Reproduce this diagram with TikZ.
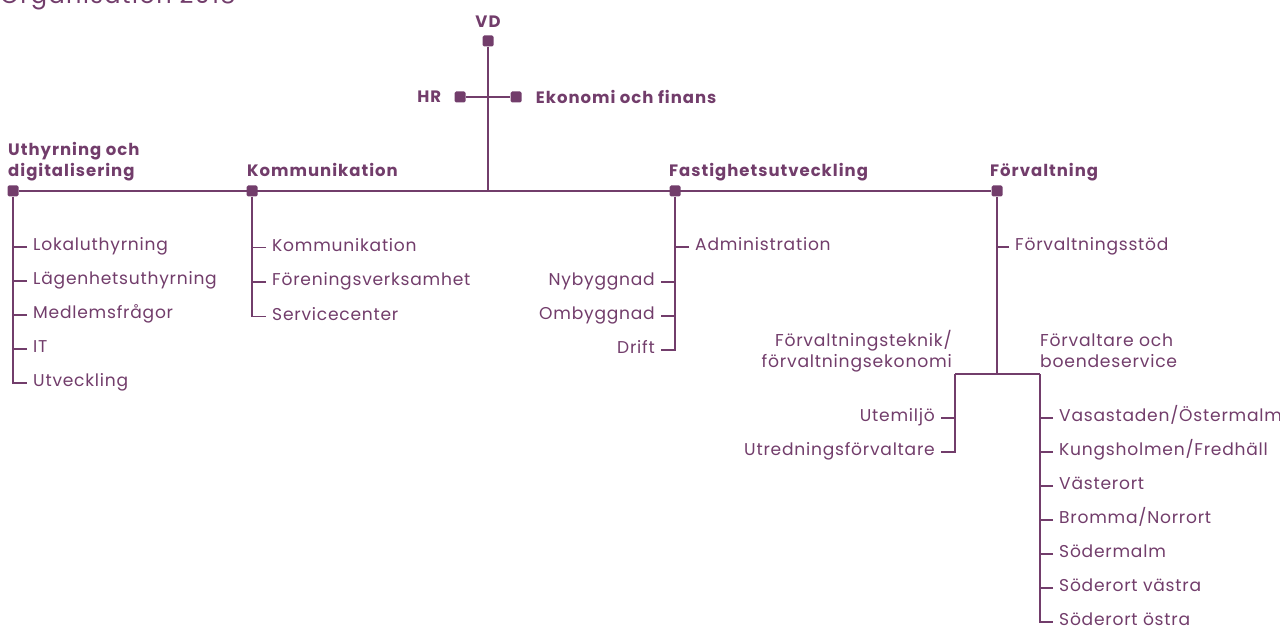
\documentclass[tikz,border=0pt]{standalone}
\usepackage{fontspec}
\setmainfont{Poppins}[LetterSpace=6]
\newfontfamily\subfont{Poppins}[LetterSpace=4.5]
\usetikzlibrary{positioning}

\definecolor{orgpurple}{RGB}{114,61,107}

\tikzset{
  unit/.style={rectangle, fill=orgpurple, rounded corners=1.5pt, minimum size=11pt, inner sep=0pt},
  head/.style={font=\bfseries\fontsize{16.5}{21}\selectfont, text=orgpurple, inner sep=0pt, align=left},
  subhead/.style={font=\subfont\fontsize{17.2}{20.5}\selectfont, text=orgpurple, inner sep=0pt},
  sub/.style={font=\subfont\fontsize{17.1}{21}\selectfont, text=orgpurple, inner sep=0pt, text height=0.75em, text depth=0pt},
  link/.style={draw=orgpurple, line width=1.2pt},
}

\begin{document}
\begin{tikzpicture}[x=1pt,y=-1pt]
  \useasboundingbox (0,0) rectangle (1280,628);

  \node[anchor=base west, inner sep=0pt, text=orgpurple, font=\fontsize{24}{28}\selectfont] (title) at (0,3.5) {Organisation 2018};

  % top
  \node[unit] (vd) at (488,41) {};
  \node[head, above=8pt of vd] (vdlabel) {VD};
  \node[unit] (hr) at (460,97) {};
  \node[unit] (eko) at (516,97) {};
  \node[head, left=13pt of hr] (hrlabel) {HR};
  \node[head, right=14pt of eko] (ekolabel) {Ekonomi och finans};
  \coordinate (hub) at (488,191);
  \draw[link] (vd) -- (hub);
  \draw[link] (hr) -- (eko);

  % departments
  \node[unit] (ud) at (13,191) {};
  \node[unit] (kom) at (252,191) {};
  \node[unit] (fas) at (675,191) {};
  \node[unit] (fv) at (997,191) {};
  \draw[link] (ud) -- (fv);
  \node[head, anchor=base west] (udlabel) at (8,177) {Uthyrning och\\digitalisering};
  \node[head, anchor=base west] (komlabel) at (247,177) {Kommunikation};
  \node[head, anchor=base west] (faslabel) at (669,177) {Fastighetsutveckling};
  \node[head, anchor=base west] (fvlabel) at (990,177) {Förvaltning};

  % Uthyrning och digitalisering
  \foreach \txt [count=\i] in {Lokaluthyrning, Lägenhetsuthyrning, Medlemsfrågor, IT, Utveckling}
    \node[sub, anchor=west] (ud\i) at (33,213+34*\i) {\txt};
  \foreach \i in {1,...,4}
    \draw[link] ([xshift=-6pt]ud\i.west) -- (ud |- ud\i.west);
  \draw[link] (ud) |- ([xshift=-6pt]ud5.west);

  % Kommunikation
  \foreach \txt [count=\i] in {Kommunikation, Föreningsverksamhet, Servicecenter}
    \node[sub, anchor=west] (kom\i) at (272,213+34.5*\i) {\txt};
  \foreach \i in {1,2}
    \draw[link] ([xshift=-6pt]kom\i.west) -- (kom |- kom\i.west);
  \draw[link] (kom) |- ([xshift=-6pt]kom3.west);

  % Fastighetsutveckling
  \node[sub, anchor=west] (adm) at (695,247) {Administration};
  \draw[link] ([xshift=-6pt]adm.west) -- (fas |- adm.west);
  \foreach \txt/\y [count=\i] in {Nybyggnad/282, Ombyggnad/316, Drift/350}
    \node[sub, anchor=east] (fas\i) at (655,\y) {\txt};
  \foreach \i in {1,2}
    \draw[link] ([xshift=6pt]fas\i.east) -- (fas |- fas\i.east);
  \draw[link] (fas) |- ([xshift=6pt]fas3.east);

  % Förvaltning
  \node[sub, anchor=west] (stod) at (1015,247) {Förvaltningsstöd};
  \draw[link] ([xshift=-6pt]stod.west) -- (fv |- stod.west);
  \coordinate (split) at (997,374);
  \coordinate (tek) at (955,374);
  \coordinate (boe) at (1040,374);
  \draw[link] (fv) -- (split);
  \draw[link] (tek) -- (boe);
  \node[subhead, anchor=base east, align=right] (teklabel) at (952,367) {Förvaltningsteknik/\\förvaltningsekonomi};
  \node[subhead, anchor=base west, align=left] (boelabel) at (1040,367) {Förvaltare och\\boendeservice};

  \node[sub, anchor=east] (tek1) at (935,418) {Utemiljö};
  \node[sub, anchor=east] (tek2) at (935,452) {Utredningsförvaltare};
  \draw[link] ([xshift=6pt]tek1.east) -- (tek |- tek1.east);
  \draw[link] (tek) |- ([xshift=6pt]tek2.east);

  \foreach \txt [count=\i] in {Vasastaden/Östermalm, Kungsholmen/Fredhäll, Västerort, Bromma/Norrort, Södermalm, Söderort västra, Söderort östra}
    \node[sub, anchor=west] (boe\i) at (1059,384+34*\i) {\txt};
  \foreach \i in {1,...,6}
    \draw[link] ([xshift=-6pt]boe\i.west) -- (boe |- boe\i.west);
  \draw[link] (boe) |- ([xshift=-6pt]boe7.west);
\end{tikzpicture}
\end{document}
